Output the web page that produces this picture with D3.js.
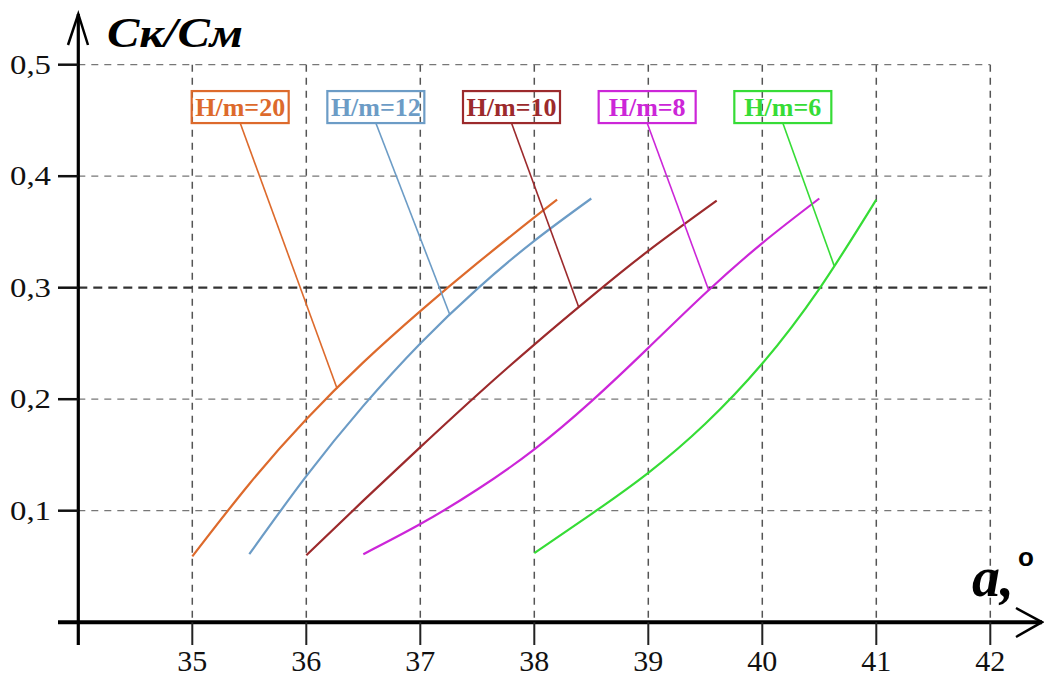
<!DOCTYPE html>
<html>
<head>
<meta charset="utf-8">
<script src="https://cdn.jsdelivr.net/npm/d3@7"></script>
<style>
  html, body { margin: 0; padding: 0; background: #fff; }
  svg { display: block; }
</style>
</head>
<body>
<svg id="chart" width="1044" height="680"></svg>
<script>
// Ratio Ск/См versus angle a (degrees) for several H/m values
const seriesNames = ["H/m=20", "H/m=12", "H/m=10", "H/m=8", "H/m=6"];
const colors = ["#dd6a2c", "#6c9cc6", "#9c2a2c", "#cc26d8", "#36dc36"];

const angle20 = [35, 35.5, 36, 36.5, 37, 37.5, 38, 38.2];
const ratio20 = [0.059, 0.124, 0.182, 0.233, 0.279, 0.322, 0.363, 0.379];

const angle12 = [35.5, 36, 36.5, 37, 37.5, 38, 38.5];
const ratio12 = [0.061, 0.131, 0.194, 0.25, 0.299, 0.342, 0.38];

const angle10 = [36, 36.5, 37, 37.5, 38, 38.5, 39, 39.6];
const ratio10 = [0.06, 0.109, 0.157, 0.204, 0.249, 0.292, 0.333, 0.378];

const angle8 = [36.5, 37, 37.5, 38, 38.5, 39, 39.5, 40, 40.5];
const ratio8 = [0.061, 0.088, 0.119, 0.155, 0.198, 0.246, 0.295, 0.34, 0.38];

const angle6 = [38, 38.5, 39, 39.5, 40, 40.5, 41];
const ratio6 = [0.062, 0.097, 0.134, 0.178, 0.232, 0.299, 0.379];

// where each callout label sits (angle, ratio) and where its pointer meets the curve (angle)
const labelAngle = [35.42, 36.61, 37.8, 38.99, 40.18];
const labelRatio = 0.462;
const pointerAngle = [36.27, 37.26, 38.39, 39.53, 40.63];

const xTicks = [35, 36, 37, 38, 39, 40, 41, 42];
const yTicks = [0.1, 0.2, 0.3, 0.4, 0.5];
const yTickLabels = ["0,1", "0,2", "0,3", "0,4", "0,5"];

const angles = [angle20, angle12, angle10, angle8, angle6];
const ratios = [ratio20, ratio12, ratio10, ratio8, ratio6];

const svg = d3.select("#chart");

const x = d3.scaleLinear().domain([34, 42]).range([78.3, 990.3]);
const y = d3.scaleLinear().domain([0, 0.5]).range([622.2, 64.7]);

const serif = "'Liberation Serif', 'Times New Roman', serif";

// grid
const grid = svg.append("g");
grid.selectAll("line.v").data(xTicks).join("line")
  .attr("x1", d => x(d)).attr("x2", d => x(d))
  .attr("y1", y(0.5)).attr("y2", y(0))
  .attr("stroke", "#555").attr("stroke-width", 1.5)
  .attr("stroke-dasharray", "7,6");
grid.selectAll("line.h").data(yTicks).join("line")
  .attr("x1", x(34)).attr("x2", x(42))
  .attr("y1", d => y(d)).attr("y2", d => y(d))
  .attr("stroke", d => d === 0.3 ? "#333" : "#777")
  .attr("stroke-width", d => d === 0.3 ? 2.2 : 1.3)
  .attr("stroke-dasharray", d => d === 0.3 ? "9,6" : "7,6");

// curves
const line = d3.line().curve(d3.curveNatural)
  .x(d => x(d[0])).y(d => y(d[1]));
seriesNames.forEach((name, i) => {
  const pts = angles[i].map((a, k) => [a, ratios[i][k]]);
  svg.append("path").datum(pts)
    .attr("d", line)
    .attr("fill", "none")
    .attr("stroke", colors[i])
    .attr("stroke-width", 2.2);
});

// callouts
const boxW = 97, boxH = 32;
seriesNames.forEach((name, i) => {
  const cx = x(labelAngle[i]), cy = y(labelRatio);
  const pa = pointerAngle[i];
  const pr = d3.scaleLinear().domain(angles[i]).range(ratios[i])(pa);
  svg.append("line")
    .attr("x1", cx).attr("y1", cy + boxH / 2)
    .attr("x2", x(pa)).attr("y2", y(pr))
    .attr("stroke", colors[i]).attr("stroke-width", 1.6);
  svg.append("rect")
    .attr("x", cx - boxW / 2).attr("y", cy - boxH / 2)
    .attr("width", boxW).attr("height", boxH)
    .attr("fill", "none")
    .attr("stroke", colors[i]).attr("stroke-width", 2.2);
  svg.append("text")
    .attr("x", cx).attr("y", cy + 9)
    .attr("text-anchor", "middle")
    .attr("font-family", serif).attr("font-weight", "bold")
    .attr("font-size", 26)
    .attr("fill", colors[i])
    .text(name);
});

// axes
const axes = svg.append("g").attr("stroke", "#000").attr("fill", "none");
axes.append("line").attr("x1", 58).attr("x2", 1042).attr("y1", y(0)).attr("y2", y(0))
  .attr("stroke-width", 4);
axes.append("polyline")
  .attr("points", `1016,608 1042,${y(0)} 1016,637`)
  .attr("stroke-width", 2.5);
axes.append("line").attr("x1", x(34)).attr("x2", x(34)).attr("y1", 645).attr("y2", 14)
  .attr("stroke-width", 3.2);
axes.append("polyline")
  .attr("points", `68,45 ${x(34)},14 88,45`)
  .attr("stroke-width", 2.5);

// ticks
svg.append("g").selectAll("line").data(xTicks).join("line")
  .attr("x1", d => x(d)).attr("x2", d => x(d))
  .attr("y1", y(0)).attr("y2", 645)
  .attr("stroke", "#222").attr("stroke-width", 2);
svg.append("g").selectAll("line").data(yTicks).join("line")
  .attr("x1", 58).attr("x2", x(34))
  .attr("y1", d => y(d)).attr("y2", d => y(d))
  .attr("stroke", "#111").attr("stroke-width", 2.5);

svg.append("g").selectAll("text").data(xTicks).join("text")
  .attr("x", d => x(d)).attr("y", 671)
  .attr("text-anchor", "middle")
  .attr("font-family", serif).attr("font-size", 30)
  .attr("fill", "#111")
  .text(d => d);
svg.append("g").selectAll("text").data(yTicks).join("text")
  .attr("x", 10).attr("y", d => y(d) + 9)
  .attr("font-family", serif).attr("font-size", 28)
  .attr("textLength", 41).attr("lengthAdjust", "spacingAndGlyphs")
  .attr("fill", "#111")
  .text((d, i) => yTickLabels[i]);

// axis titles
svg.append("text")
  .attr("x", 107).attr("y", 47)
  .attr("font-family", serif).attr("font-weight", "bold").attr("font-style", "italic")
  .attr("font-size", 42)
  .attr("textLength", 136).attr("lengthAdjust", "spacingAndGlyphs")
  .attr("fill", "#000")
  .text("Ск/См");
svg.append("text")
  .attr("x", 972).attr("y", 596)
  .attr("font-family", serif).attr("font-weight", "bold").attr("font-style", "italic")
  .attr("font-size", 56)
  .attr("fill", "#000")
  .text("a,");
svg.append("text")
  .attr("x", 1018).attr("y", 566)
  .attr("font-family", "'Liberation Sans', Arial, sans-serif").attr("font-weight", "bold")
  .attr("font-size", 26)
  .attr("fill", "#000")
  .text("o");
</script>
</body>
</html>
